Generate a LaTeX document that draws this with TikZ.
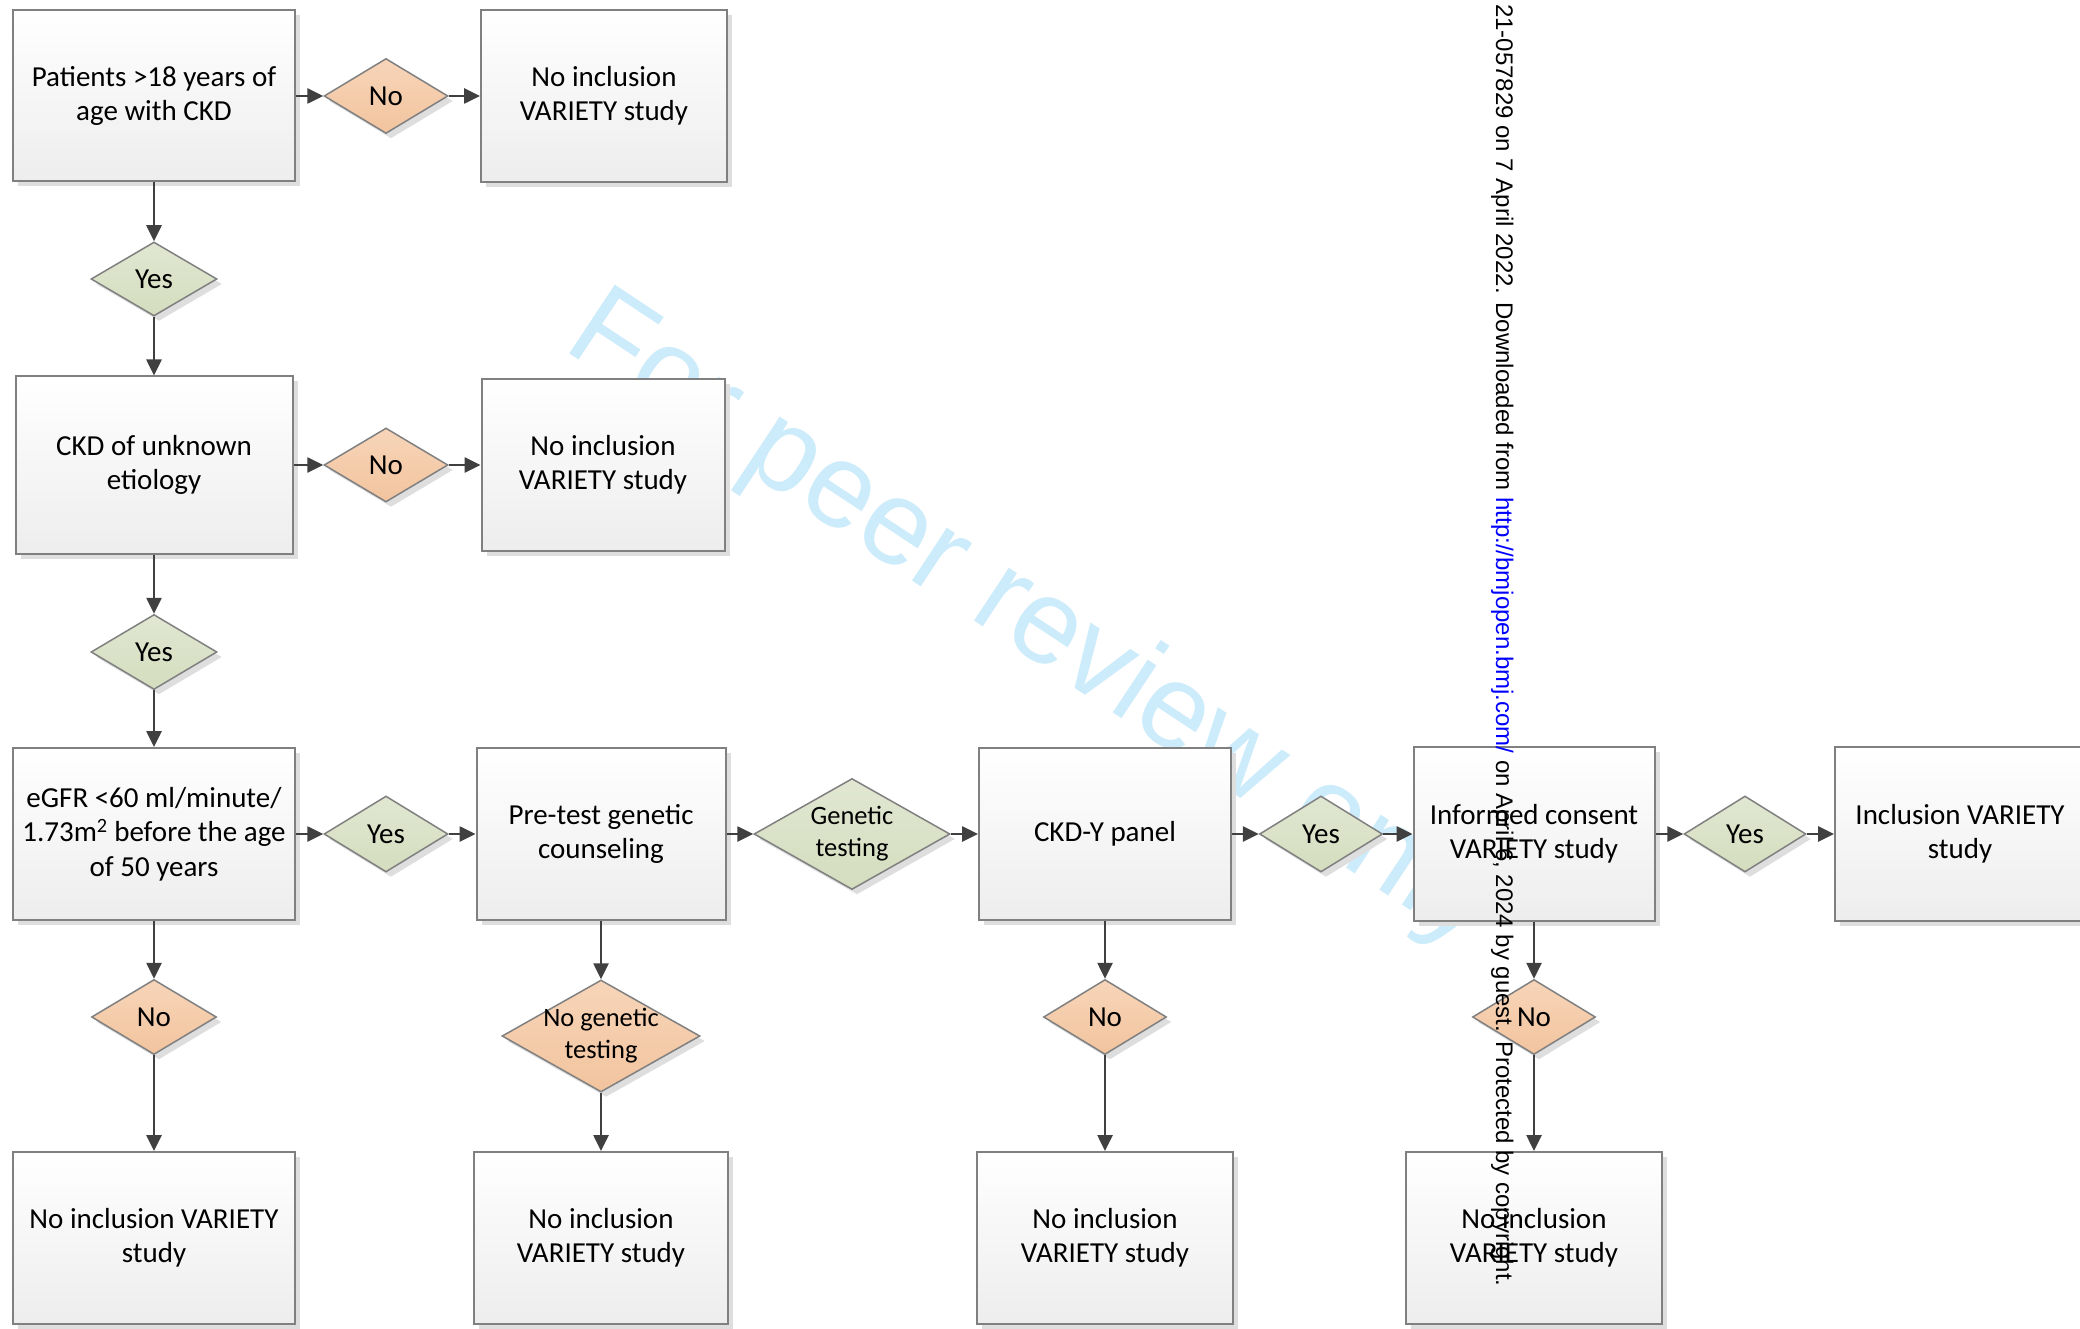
\documentclass[tikz,border=0pt]{standalone}
\usepackage{fontspec}
\setmainfont{Carlito}
\newfontfamily\wmfont{Liberation Sans}
\usetikzlibrary{shapes.geometric,arrows.meta,shadows}

\definecolor{boxline}{RGB}{128,128,128}
\definecolor{arrowc}{RGB}{64,64,64}
\definecolor{yesbot}{RGB}{212,221,190}
\definecolor{yestop}{RGB}{225,231,210}
\definecolor{nobot}{RGB}{242,196,158}
\definecolor{notop}{RGB}{247,213,185}
\definecolor{wmblue}{RGB}{205,236,251}
\definecolor{linkblue}{RGB}{0,0,255}

\tikzset{
  mainfont/.style={font=\fontsize{29}{34.5}\selectfont},
  box/.style={mainfont, draw=boxline, line width=2pt, top color=white, bottom color=black!7,
    align=center, inner sep=0pt,
    drop shadow={shadow xshift=5pt, shadow yshift=-5pt, fill=black!13, opacity=1}},
  dia/.style={shape=diamond, draw=boxline, line width=1.5pt, inner sep=0pt,
    drop shadow={shadow xshift=5pt, shadow yshift=-5pt, fill=black!13, opacity=1}},
  yesd/.style={dia, top color=yestop, bottom color=yesbot},
  nod/.style={dia, top color=notop, bottom color=nobot},
  lab/.style={mainfont, inner sep=0pt, align=center, text=black},
  labs/.style={font=\fontsize{26.5}{32}\selectfont, inner sep=0pt, align=center, text=black},
  arr/.style={draw=arrowc, line width=2.6pt, -{Triangle[length=16pt,width=15pt]}},
}

\begin{document}
\begin{tikzpicture}[x=1pt, y=-1pt]
\fill[white] (0,0) rectangle (2080,1329);
\useasboundingbox (0,0) rectangle (2080,1329);

% watermark
\node[rotate=-33.5, anchor=base west, inner sep=0pt, text=wmblue,
      font=\wmfont\fontsize{120}{140}\selectfont] (wm) at (561,348) {For peer review only};

% boxes
\node[box, minimum width=282pt, minimum height=171pt] (A) at (154,96) {Patients >18 years of\\age with CKD};
\node[box, minimum width=246pt, minimum height=172pt] (B) at (604,96) {No inclusion\\VARIETY study};
\node[box, minimum width=277pt, minimum height=177pt] (C) at (154,465) {CKD of unknown\\etiology};
\node[box, minimum width=243pt, minimum height=172pt] (D) at (603,465) {No inclusion\\VARIETY study};
\node[box, minimum width=282pt, minimum height=172pt] (E) at (154,834) {eGFR <60 ml/minute/\\1.73m\textsuperscript{2} before the age\\of 50 years};
\node[box, minimum width=249pt, minimum height=172pt] (F) at (601,834) {Pre-test genetic\\counseling};
\node[box, minimum width=252pt, minimum height=172pt] (G) at (1105,834) {CKD-Y panel};
\node[box, minimum width=241pt, minimum height=174pt] (H) at (1534,834) {Informed consent\\VARIETY study};
\node[box, minimum width=250pt, minimum height=174pt] (I) at (1960,834) {Inclusion VARIETY\\study};
\node[box, minimum width=282pt, minimum height=172pt] (J) at (154,1238) {No inclusion VARIETY\\study};
\node[box, minimum width=254pt, minimum height=172pt] (K) at (601,1238) {No inclusion\\VARIETY study};
\node[box, minimum width=256pt, minimum height=172pt] (L) at (1105,1238) {No inclusion\\VARIETY study};
\node[box, minimum width=256pt, minimum height=172pt] (M) at (1534,1238) {No inclusion\\VARIETY study};

% diamonds
\node[nod, minimum width=124pt, minimum height=75pt, label={[lab]center:No}] (N1) at (386,96) {};
\node[yesd, minimum width=126pt, minimum height=74pt, label={[lab]center:Yes}] (Y1) at (154,279) {};
\node[nod, minimum width=124pt, minimum height=74pt, label={[lab]center:No}] (N2) at (386,465) {};
\node[yesd, minimum width=126pt, minimum height=75pt, label={[lab]center:Yes}] (Y2) at (154,652) {};
\node[yesd, minimum width=124pt, minimum height=76pt, label={[lab]center:Yes}] (Y3) at (386,834) {};
\node[yesd, minimum width=196pt, minimum height=111pt, label={[labs]center:Genetic\\testing}] (GT) at (852,834) {};
\node[yesd, minimum width=123pt, minimum height=76pt, label={[lab]center:Yes}] (Y4) at (1321,834) {};
\node[yesd, minimum width=122pt, minimum height=76pt, label={[lab]center:Yes}] (Y5) at (1745,834) {};
\node[nod, minimum width=125pt, minimum height=75pt, label={[lab]center:No}] (N3) at (154,1017) {};
\node[nod, minimum width=198pt, minimum height=112pt, label={[labs]center:No genetic\\testing}] (NGT) at (601,1036) {};
\node[nod, minimum width=123pt, minimum height=75pt, label={[lab]center:No}] (N4) at (1105,1017) {};
\node[nod, minimum width=123pt, minimum height=75pt, label={[lab]center:No}] (N5) at (1534,1017) {};

% connectors
\draw[arr] (A.east) -- (N1.west);
\draw[arr] (N1.east) -- (B.west);
\draw[arr] (A.south) -- (Y1.north);
\draw[arr] (Y1.south) -- (C.north);
\draw[arr] (C.east) -- (N2.west);
\draw[arr] (N2.east) -- (D.west);
\draw[arr] (C.south) -- (Y2.north);
\draw[arr] (Y2.south) -- (E.north);
\draw[arr] (E.east) -- (Y3.west);
\draw[arr] (Y3.east) -- (F.west);
\draw[arr] (F.east) -- (GT.west);
\draw[arr] (GT.east) -- (G.west);
\draw[arr] (G.east) -- (Y4.west);
\draw[arr] (Y4.east) -- (H.west);
\draw[arr] (H.east) -- (Y5.west);
\draw[arr] (Y5.east) -- (I.west);
\draw[arr] (E.south) -- (N3.north);
\draw[arr] (N3.south) -- (J.north);
\draw[arr] (F.south) -- (NGT.north);
\draw[arr] (NGT.south) -- (K.north);
\draw[arr] (G.south) -- (N4.north);
\draw[arr] (N4.south) -- (L.north);
\draw[arr] (H.south) -- (N5.north);
\draw[arr] (N5.south) -- (M.north);

% vertical margin text
\node[rotate=-90, anchor=base west, inner sep=0pt,
      font=\wmfont\fontsize{24}{28}\selectfont] (vt) at (1496,4)
  {21-057829 on 7 April 2022. Downloaded from \textcolor{linkblue}{http://bmjopen.bmj.com/} on April 6, 2024 by guest. Protected by copyright.};
\end{tikzpicture}
\end{document}
